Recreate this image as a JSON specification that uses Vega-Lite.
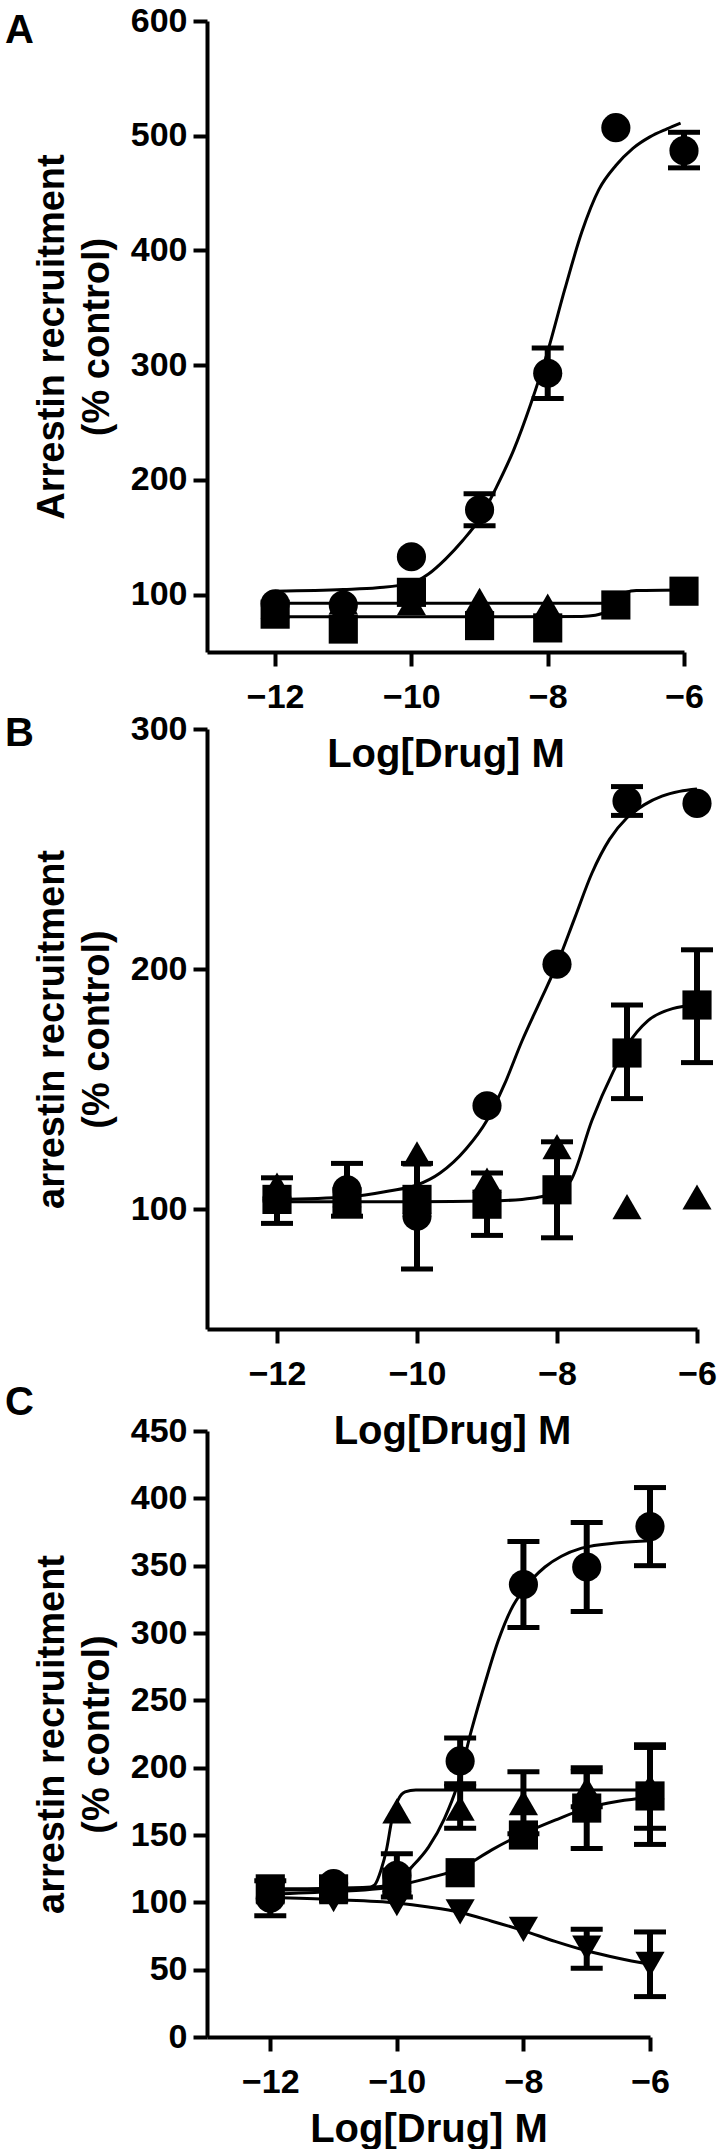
{
  "$schema": "https://vega.github.io/schema/vega-lite/v6.json",
  "padding": {"left": 5, "top": 4, "right": 0, "bottom": 0},
  "background": "white",
  "bounds": "flush",
  "spacing": 77,
  "datasets": {
    "pts": [
      {"p":"A","s":"circle","x":-12,"y":92},
      {"p":"A","s":"circle","x":-11,"y":91},
      {"p":"A","s":"circle","x":-10,"y":133},
      {"p":"A","s":"circle","x":-9,"y":174,"lo":160,"hi":188},
      {"p":"A","s":"circle","x":-8,"y":293,"lo":271,"hi":315},
      {"p":"A","s":"circle","x":-7,"y":507},
      {"p":"A","s":"circle","x":-6,"y":487,"lo":472,"hi":503},
      {"p":"A","s":"up","x":-12,"y":90},
      {"p":"A","s":"up","x":-11,"y":94},
      {"p":"A","s":"up","x":-10,"y":93},
      {"p":"A","s":"up","x":-9,"y":95},
      {"p":"A","s":"up","x":-8,"y":90},
      {"p":"A","s":"square","x":-12,"y":83},
      {"p":"A","s":"square","x":-11,"y":70},
      {"p":"A","s":"square","x":-10,"y":102},
      {"p":"A","s":"square","x":-9,"y":73},
      {"p":"A","s":"square","x":-8,"y":71},
      {"p":"A","s":"square","x":-7,"y":91},
      {"p":"A","s":"square","x":-6,"y":103},
      {"p":"B","s":"circle","x":-12,"y":104},
      {"p":"B","s":"circle","x":-11,"y":108,"lo":97,"hi":119},
      {"p":"B","s":"circle","x":-10,"y":97,"lo":75,"hi":119},
      {"p":"B","s":"circle","x":-9,"y":143},
      {"p":"B","s":"circle","x":-8,"y":202},
      {"p":"B","s":"circle","x":-7,"y":270,"lo":264,"hi":276},
      {"p":"B","s":"circle","x":-6,"y":269},
      {"p":"B","s":"up","x":-12,"y":110},
      {"p":"B","s":"up","x":-11,"y":106},
      {"p":"B","s":"up","x":-10,"y":123},
      {"p":"B","s":"up","x":-9,"y":112},
      {"p":"B","s":"up","x":-8,"y":126},
      {"p":"B","s":"up","x":-7,"y":101},
      {"p":"B","s":"up","x":-6,"y":105},
      {"p":"B","s":"square","x":-12,"y":104,"lo":94,"hi":113},
      {"p":"B","s":"square","x":-11,"y":103},
      {"p":"B","s":"square","x":-10,"y":104},
      {"p":"B","s":"square","x":-9,"y":102,"lo":89,"hi":115},
      {"p":"B","s":"square","x":-8,"y":108,"lo":88,"hi":128},
      {"p":"B","s":"square","x":-7,"y":165,"lo":146,"hi":185},
      {"p":"B","s":"square","x":-6,"y":185,"lo":161,"hi":208},
      {"p":"C","s":"circle","x":-12,"y":103,"lo":90,"hi":116},
      {"p":"C","s":"circle","x":-11,"y":114},
      {"p":"C","s":"circle","x":-10,"y":120,"lo":104,"hi":136},
      {"p":"C","s":"circle","x":-9,"y":205,"lo":188,"hi":222},
      {"p":"C","s":"circle","x":-8,"y":336,"lo":304,"hi":368},
      {"p":"C","s":"circle","x":-7,"y":349,"lo":316,"hi":382},
      {"p":"C","s":"circle","x":-6,"y":379,"lo":350,"hi":408},
      {"p":"C","s":"up","x":-12,"y":108},
      {"p":"C","s":"up","x":-11,"y":108},
      {"p":"C","s":"up","x":-10,"y":168},
      {"p":"C","s":"up","x":-9,"y":170,"lo":155,"hi":186},
      {"p":"C","s":"up","x":-8,"y":174,"lo":151,"hi":197},
      {"p":"C","s":"up","x":-7,"y":184,"lo":171,"hi":197},
      {"p":"C","s":"up","x":-6,"y":186,"lo":155,"hi":217},
      {"p":"C","s":"down","x":-12,"y":105},
      {"p":"C","s":"down","x":-11,"y":102},
      {"p":"C","s":"down","x":-10,"y":99},
      {"p":"C","s":"down","x":-9,"y":93},
      {"p":"C","s":"down","x":-8,"y":80},
      {"p":"C","s":"down","x":-7,"y":66,"lo":51,"hi":80},
      {"p":"C","s":"down","x":-6,"y":54,"lo":30,"hi":78},
      {"p":"C","s":"square","x":-12,"y":110},
      {"p":"C","s":"square","x":-11,"y":110},
      {"p":"C","s":"square","x":-10,"y":115},
      {"p":"C","s":"square","x":-9,"y":122},
      {"p":"C","s":"square","x":-8,"y":150},
      {"p":"C","s":"square","x":-7,"y":170,"lo":140,"hi":200},
      {"p":"C","s":"square","x":-6,"y":179,"lo":143,"hi":215}
    ],
    "fits": [
      {"p":"A","s":"circle","x":-12,"y":103},{"p":"A","s":"circle","x":-11,"y":104.5},{"p":"A","s":"circle","x":-10.5,"y":106},{"p":"A","s":"circle","x":-10,"y":110},{"p":"A","s":"circle","x":-9.75,"y":118},{"p":"A","s":"circle","x":-9.5,"y":131},{"p":"A","s":"circle","x":-9.25,"y":147},{"p":"A","s":"circle","x":-9,"y":166},{"p":"A","s":"circle","x":-8.75,"y":194},{"p":"A","s":"circle","x":-8.5,"y":226},{"p":"A","s":"circle","x":-8.25,"y":266},{"p":"A","s":"circle","x":-8,"y":312},{"p":"A","s":"circle","x":-7.75,"y":366},{"p":"A","s":"circle","x":-7.5,"y":416},{"p":"A","s":"circle","x":-7.25,"y":453},{"p":"A","s":"circle","x":-7,"y":474},{"p":"A","s":"circle","x":-6.75,"y":489},{"p":"A","s":"circle","x":-6.5,"y":499},{"p":"A","s":"circle","x":-6.25,"y":506},{"p":"A","s":"circle","x":-6.05,"y":511},
      {"p":"A","s":"up","x":-12,"y":92.5},{"p":"A","s":"up","x":-7,"y":92.5},
      {"p":"A","s":"square","x":-12,"y":80.7},{"p":"A","s":"square","x":-9,"y":80.7},{"p":"A","s":"square","x":-7.5,"y":81},{"p":"A","s":"square","x":-7.3,"y":82},{"p":"A","s":"square","x":-7.15,"y":85},{"p":"A","s":"square","x":-7.05,"y":91},{"p":"A","s":"square","x":-6.95,"y":98},{"p":"A","s":"square","x":-6.85,"y":102},{"p":"A","s":"square","x":-6.7,"y":103.5},{"p":"A","s":"square","x":-6,"y":104},
      {"p":"B","s":"circle","x":-12,"y":104},{"p":"B","s":"circle","x":-11,"y":105},{"p":"B","s":"circle","x":-10.4,"y":107.5},{"p":"B","s":"circle","x":-10,"y":110},{"p":"B","s":"circle","x":-9.67,"y":115},{"p":"B","s":"circle","x":-9.3,"y":125},{"p":"B","s":"circle","x":-9,"y":137},{"p":"B","s":"circle","x":-8.75,"y":152},{"p":"B","s":"circle","x":-8.5,"y":170},{"p":"B","s":"circle","x":-8.25,"y":186},{"p":"B","s":"circle","x":-8,"y":202},{"p":"B","s":"circle","x":-7.75,"y":221},{"p":"B","s":"circle","x":-7.5,"y":240},{"p":"B","s":"circle","x":-7.25,"y":254},{"p":"B","s":"circle","x":-7,"y":263},{"p":"B","s":"circle","x":-6.75,"y":268.5},{"p":"B","s":"circle","x":-6.5,"y":272},{"p":"B","s":"circle","x":-6.25,"y":274},{"p":"B","s":"circle","x":-6,"y":275},
      {"p":"B","s":"square","x":-12,"y":103},{"p":"B","s":"square","x":-10,"y":103},{"p":"B","s":"square","x":-9,"y":103.3},{"p":"B","s":"square","x":-8.5,"y":104},{"p":"B","s":"square","x":-8.25,"y":105},{"p":"B","s":"square","x":-8,"y":107},{"p":"B","s":"square","x":-7.8,"y":112},{"p":"B","s":"square","x":-7.5,"y":137},{"p":"B","s":"square","x":-7.2,"y":157},{"p":"B","s":"square","x":-7,"y":168},{"p":"B","s":"square","x":-6.7,"y":178.5},{"p":"B","s":"square","x":-6.35,"y":183.5},{"p":"B","s":"square","x":-6,"y":185},
      {"p":"C","s":"circle","x":-12,"y":110},{"p":"C","s":"circle","x":-11,"y":110.5},{"p":"C","s":"circle","x":-10.3,"y":111.5},{"p":"C","s":"circle","x":-10,"y":116},{"p":"C","s":"circle","x":-9.75,"y":127},{"p":"C","s":"circle","x":-9.5,"y":141},{"p":"C","s":"circle","x":-9.25,"y":162},{"p":"C","s":"circle","x":-9.05,"y":186},{"p":"C","s":"circle","x":-8.82,"y":228},{"p":"C","s":"circle","x":-8.6,"y":264},{"p":"C","s":"circle","x":-8.4,"y":294},{"p":"C","s":"circle","x":-8.2,"y":317},{"p":"C","s":"circle","x":-8,"y":332},{"p":"C","s":"circle","x":-7.66,"y":349},{"p":"C","s":"circle","x":-7.4,"y":357},{"p":"C","s":"circle","x":-7.08,"y":363},{"p":"C","s":"circle","x":-6.5,"y":367},{"p":"C","s":"circle","x":-6,"y":368.5},
      {"p":"C","s":"up","x":-12,"y":109},{"p":"C","s":"up","x":-10.5,"y":110},{"p":"C","s":"up","x":-10.35,"y":113},{"p":"C","s":"up","x":-10.25,"y":124},{"p":"C","s":"up","x":-10.16,"y":140},{"p":"C","s":"up","x":-10.08,"y":161},{"p":"C","s":"up","x":-9.98,"y":176},{"p":"C","s":"up","x":-9.87,"y":182},{"p":"C","s":"up","x":-9.7,"y":183.5},{"p":"C","s":"up","x":-6,"y":183.5},
      {"p":"C","s":"square","x":-12,"y":106},{"p":"C","s":"square","x":-11,"y":108},{"p":"C","s":"square","x":-10.3,"y":110},{"p":"C","s":"square","x":-10,"y":112.5},{"p":"C","s":"square","x":-9.5,"y":118},{"p":"C","s":"square","x":-9,"y":125},{"p":"C","s":"square","x":-8.5,"y":139},{"p":"C","s":"square","x":-8,"y":151},{"p":"C","s":"square","x":-7.5,"y":161},{"p":"C","s":"square","x":-7,"y":170},{"p":"C","s":"square","x":-6.5,"y":175},{"p":"C","s":"square","x":-6,"y":178},
      {"p":"C","s":"down","x":-12,"y":103.5},{"p":"C","s":"down","x":-11,"y":102},{"p":"C","s":"down","x":-10,"y":99.5},{"p":"C","s":"down","x":-9.5,"y":96.5},{"p":"C","s":"down","x":-9,"y":92.5},{"p":"C","s":"down","x":-8.5,"y":86},{"p":"C","s":"down","x":-8,"y":79},{"p":"C","s":"down","x":-7.5,"y":71},{"p":"C","s":"down","x":-7,"y":64},{"p":"C","s":"down","x":-6.5,"y":58.5},{"p":"C","s":"down","x":-6,"y":54}
    ]
  },
  "vconcat": [
    {
      "width": 477, "height": 631,
      "title": {"text": "A", "dx": -202, "dy": 51, "baseline": "top"},
      "layer": [
        {"data": {"name": "fits"}, "transform": [{"filter": "datum.p == 'A'"}],
         "mark": {"type": "line", "interpolate": "monotone", "strokeWidth": 3, "color": "black"},
         "encoding": {
           "x": {"field": "x", "type": "quantitative", "scale": {"domain": [-13, -6], "nice": false, "zero": false}, "axis": {"values": [-12, -10, -8, -6], "title": "Log[Drug] M"}},
           "y": {"field": "y", "type": "quantitative", "scale": {"domain": [50, 600], "nice": false, "zero": false}, "axis": {"values": [100, 200, 300, 400, 500, 600], "title": ["Arrestin recruitment", "(% control)"]}},
           "detail": {"field": "s"}}},
        {"data": {"name": "pts"}, "transform": [{"filter": "datum.p == 'A' && isValid(datum.lo)"}],
         "mark": {"type": "rule", "strokeWidth": 6, "color": "black"},
         "encoding": {
           "x": {"field": "x", "type": "quantitative", "scale": {"domain": [-13, -6], "nice": false, "zero": false}, "axis": {"values": [-12, -10, -8, -6], "title": "Log[Drug] M"}},
           "y": {"field": "lo", "type": "quantitative", "scale": {"domain": [50, 600], "nice": false, "zero": false}, "axis": {"values": [100, 200, 300, 400, 500, 600], "title": ["Arrestin recruitment", "(% control)"]}},
           "y2": {"field": "hi"}}},
        {"data": {"name": "pts"}, "transform": [{"filter": "datum.p == 'A' && isValid(datum.lo)"}],
         "mark": {"type": "tick", "orient": "horizontal", "size": 32, "thickness": 5, "color": "black", "opacity": 1},
         "encoding": {
           "x": {"field": "x", "type": "quantitative", "scale": {"domain": [-13, -6], "nice": false, "zero": false}, "axis": {"values": [-12, -10, -8, -6], "title": "Log[Drug] M"}},
           "y": {"field": "lo", "type": "quantitative", "scale": {"domain": [50, 600], "nice": false, "zero": false}, "axis": {"values": [100, 200, 300, 400, 500, 600], "title": ["Arrestin recruitment", "(% control)"]}}}},
        {"data": {"name": "pts"}, "transform": [{"filter": "datum.p == 'A' && isValid(datum.lo)"}],
         "mark": {"type": "tick", "orient": "horizontal", "size": 32, "thickness": 5, "color": "black", "opacity": 1},
         "encoding": {
           "x": {"field": "x", "type": "quantitative", "scale": {"domain": [-13, -6], "nice": false, "zero": false}, "axis": {"values": [-12, -10, -8, -6], "title": "Log[Drug] M"}},
           "y": {"field": "hi", "type": "quantitative", "scale": {"domain": [50, 600], "nice": false, "zero": false}, "axis": {"values": [100, 200, 300, 400, 500, 600], "title": ["Arrestin recruitment", "(% control)"]}}}},
        {"data": {"name": "pts"}, "transform": [{"filter": "datum.p == 'A'"}],
         "mark": {"type": "point", "filled": true, "size": 850, "opacity": 1, "color": "black", "strokeWidth": 0},
         "encoding": {
           "x": {"field": "x", "type": "quantitative", "scale": {"domain": [-13, -6], "nice": false, "zero": false}, "axis": {"values": [-12, -10, -8, -6], "title": "Log[Drug] M"}},
           "y": {"field": "y", "type": "quantitative", "scale": {"domain": [50, 600], "nice": false, "zero": false}, "axis": {"values": [100, 200, 300, 400, 500, 600], "title": ["Arrestin recruitment", "(% control)"]}},
           "shape": {"field": "s", "type": "nominal", "scale": {"domain": ["circle", "square", "up", "down"], "range": ["circle", "square", "triangle-up", "triangle-down"]}, "legend": null}}}
      ]
    },
    {
      "bounds": "flush",
      "spacing": 102,
      "vconcat": [
        {
          "width": 490, "height": 600,
          "title": {"text": "B", "dx": -202, "dy": 46, "baseline": "top"},
          "layer": [
            {"data": {"name": "fits"}, "transform": [{"filter": "datum.p == 'B'"}],
             "mark": {"type": "line", "interpolate": "monotone", "strokeWidth": 3, "color": "black"},
             "encoding": {
               "x": {"field": "x", "type": "quantitative", "scale": {"domain": [-13, -6], "nice": false, "zero": false}, "axis": {"values": [-12, -10, -8, -6], "title": "Log[Drug] M"}},
               "y": {"field": "y", "type": "quantitative", "scale": {"domain": [50, 300], "nice": false, "zero": false}, "axis": {"values": [100, 200, 300], "title": ["arrestin recruitment", "(% control)"]}},
               "detail": {"field": "s"}}},
            {"data": {"name": "pts"}, "transform": [{"filter": "datum.p == 'B' && isValid(datum.lo)"}],
             "mark": {"type": "rule", "strokeWidth": 6, "color": "black"},
             "encoding": {
               "x": {"field": "x", "type": "quantitative", "scale": {"domain": [-13, -6], "nice": false, "zero": false}, "axis": {"values": [-12, -10, -8, -6], "title": "Log[Drug] M"}},
               "y": {"field": "lo", "type": "quantitative", "scale": {"domain": [50, 300], "nice": false, "zero": false}, "axis": {"values": [100, 200, 300], "title": ["arrestin recruitment", "(% control)"]}},
               "y2": {"field": "hi"}}},
            {"data": {"name": "pts"}, "transform": [{"filter": "datum.p == 'B' && isValid(datum.lo)"}],
             "mark": {"type": "tick", "orient": "horizontal", "size": 32, "thickness": 5, "color": "black", "opacity": 1},
             "encoding": {
               "x": {"field": "x", "type": "quantitative", "scale": {"domain": [-13, -6], "nice": false, "zero": false}, "axis": {"values": [-12, -10, -8, -6], "title": "Log[Drug] M"}},
               "y": {"field": "lo", "type": "quantitative", "scale": {"domain": [50, 300], "nice": false, "zero": false}, "axis": {"values": [100, 200, 300], "title": ["arrestin recruitment", "(% control)"]}}}},
            {"data": {"name": "pts"}, "transform": [{"filter": "datum.p == 'B' && isValid(datum.lo)"}],
             "mark": {"type": "tick", "orient": "horizontal", "size": 32, "thickness": 5, "color": "black", "opacity": 1},
             "encoding": {
               "x": {"field": "x", "type": "quantitative", "scale": {"domain": [-13, -6], "nice": false, "zero": false}, "axis": {"values": [-12, -10, -8, -6], "title": "Log[Drug] M"}},
               "y": {"field": "hi", "type": "quantitative", "scale": {"domain": [50, 300], "nice": false, "zero": false}, "axis": {"values": [100, 200, 300], "title": ["arrestin recruitment", "(% control)"]}}}},
            {"data": {"name": "pts"}, "transform": [{"filter": "datum.p == 'B'"}],
             "mark": {"type": "point", "filled": true, "size": 850, "opacity": 1, "color": "black", "strokeWidth": 0},
             "encoding": {
               "x": {"field": "x", "type": "quantitative", "scale": {"domain": [-13, -6], "nice": false, "zero": false}, "axis": {"values": [-12, -10, -8, -6], "title": "Log[Drug] M"}},
               "y": {"field": "y", "type": "quantitative", "scale": {"domain": [50, 300], "nice": false, "zero": false}, "axis": {"values": [100, 200, 300], "title": ["arrestin recruitment", "(% control)"]}},
               "shape": {"field": "s", "type": "nominal", "scale": {"domain": ["circle", "square", "up", "down"], "range": ["circle", "square", "triangle-up", "triangle-down"]}, "legend": null}}}
          ]
        },
        {
          "width": 443, "height": 606,
          "title": {"text": "C", "dx": -202, "dy": 13, "baseline": "top"},
          "layer": [
            {"data": {"name": "fits"}, "transform": [{"filter": "datum.p == 'C'"}],
             "mark": {"type": "line", "interpolate": "monotone", "strokeWidth": 3, "color": "black"},
             "encoding": {
               "x": {"field": "x", "type": "quantitative", "scale": {"domain": [-13, -6], "nice": false, "zero": false}, "axis": {"values": [-12, -10, -8, -6], "title": "Log[Drug] M", "titlePadding": 10}},
               "y": {"field": "y", "type": "quantitative", "scale": {"domain": [0, 450], "nice": false, "zero": false}, "axis": {"values": [0, 50, 100, 150, 200, 250, 300, 350, 400, 450], "title": ["arrestin recruitment", "(% control)"]}},
               "detail": {"field": "s"}}},
            {"data": {"name": "pts"}, "transform": [{"filter": "datum.p == 'C' && isValid(datum.lo)"}],
             "mark": {"type": "rule", "strokeWidth": 6, "color": "black"},
             "encoding": {
               "x": {"field": "x", "type": "quantitative", "scale": {"domain": [-13, -6], "nice": false, "zero": false}, "axis": {"values": [-12, -10, -8, -6], "title": "Log[Drug] M", "titlePadding": 10}},
               "y": {"field": "lo", "type": "quantitative", "scale": {"domain": [0, 450], "nice": false, "zero": false}, "axis": {"values": [0, 50, 100, 150, 200, 250, 300, 350, 400, 450], "title": ["arrestin recruitment", "(% control)"]}},
               "y2": {"field": "hi"}}},
            {"data": {"name": "pts"}, "transform": [{"filter": "datum.p == 'C' && isValid(datum.lo)"}],
             "mark": {"type": "tick", "orient": "horizontal", "size": 32, "thickness": 5, "color": "black", "opacity": 1},
             "encoding": {
               "x": {"field": "x", "type": "quantitative", "scale": {"domain": [-13, -6], "nice": false, "zero": false}, "axis": {"values": [-12, -10, -8, -6], "title": "Log[Drug] M", "titlePadding": 10}},
               "y": {"field": "lo", "type": "quantitative", "scale": {"domain": [0, 450], "nice": false, "zero": false}, "axis": {"values": [0, 50, 100, 150, 200, 250, 300, 350, 400, 450], "title": ["arrestin recruitment", "(% control)"]}}}},
            {"data": {"name": "pts"}, "transform": [{"filter": "datum.p == 'C' && isValid(datum.lo)"}],
             "mark": {"type": "tick", "orient": "horizontal", "size": 32, "thickness": 5, "color": "black", "opacity": 1},
             "encoding": {
               "x": {"field": "x", "type": "quantitative", "scale": {"domain": [-13, -6], "nice": false, "zero": false}, "axis": {"values": [-12, -10, -8, -6], "title": "Log[Drug] M", "titlePadding": 10}},
               "y": {"field": "hi", "type": "quantitative", "scale": {"domain": [0, 450], "nice": false, "zero": false}, "axis": {"values": [0, 50, 100, 150, 200, 250, 300, 350, 400, 450], "title": ["arrestin recruitment", "(% control)"]}}}},
            {"data": {"name": "pts"}, "transform": [{"filter": "datum.p == 'C'"}],
             "mark": {"type": "point", "filled": true, "size": 850, "opacity": 1, "color": "black", "strokeWidth": 0},
             "encoding": {
               "x": {"field": "x", "type": "quantitative", "scale": {"domain": [-13, -6], "nice": false, "zero": false}, "axis": {"values": [-12, -10, -8, -6], "title": "Log[Drug] M", "titlePadding": 10}},
               "y": {"field": "y", "type": "quantitative", "scale": {"domain": [0, 450], "nice": false, "zero": false}, "axis": {"values": [0, 50, 100, 150, 200, 250, 300, 350, 400, 450], "title": ["arrestin recruitment", "(% control)"]}},
               "shape": {"field": "s", "type": "nominal", "scale": {"domain": ["circle", "square", "up", "down"], "range": ["circle", "square", "triangle-up", "triangle-down"]}, "legend": null}}}
          ]
        }
      ]
    }
  ],
  "config": {
    "view": {"stroke": null},
    "font": "Liberation Sans",
    "axis": {
      "grid": false,
      "domainColor": "black", "domainWidth": 4,
      "tickColor": "black", "tickWidth": 4, "tickSize": 14,
      "labelColor": "black", "labelFont": "Liberation Sans", "labelFontSize": 34, "labelFontWeight": "bold",
      "titleColor": "black", "titleFont": "Liberation Sans", "titleFontWeight": "bold", "titleFontSize": 38,
      "labelFlush": false, "labelBound": false, "labelOverlap": false
    },
    "axisX": {"labelPadding": 14, "titlePadding": 20, "titleFontSize": 40},
    "axisY": {"labelPadding": 6, "titlePadding": 14, "titleLineHeight": 45},
    "title": {"font": "Liberation Sans", "fontSize": 40, "fontWeight": "bold", "color": "black", "anchor": "start", "frame": "group", "offset": 0}
  }
}
